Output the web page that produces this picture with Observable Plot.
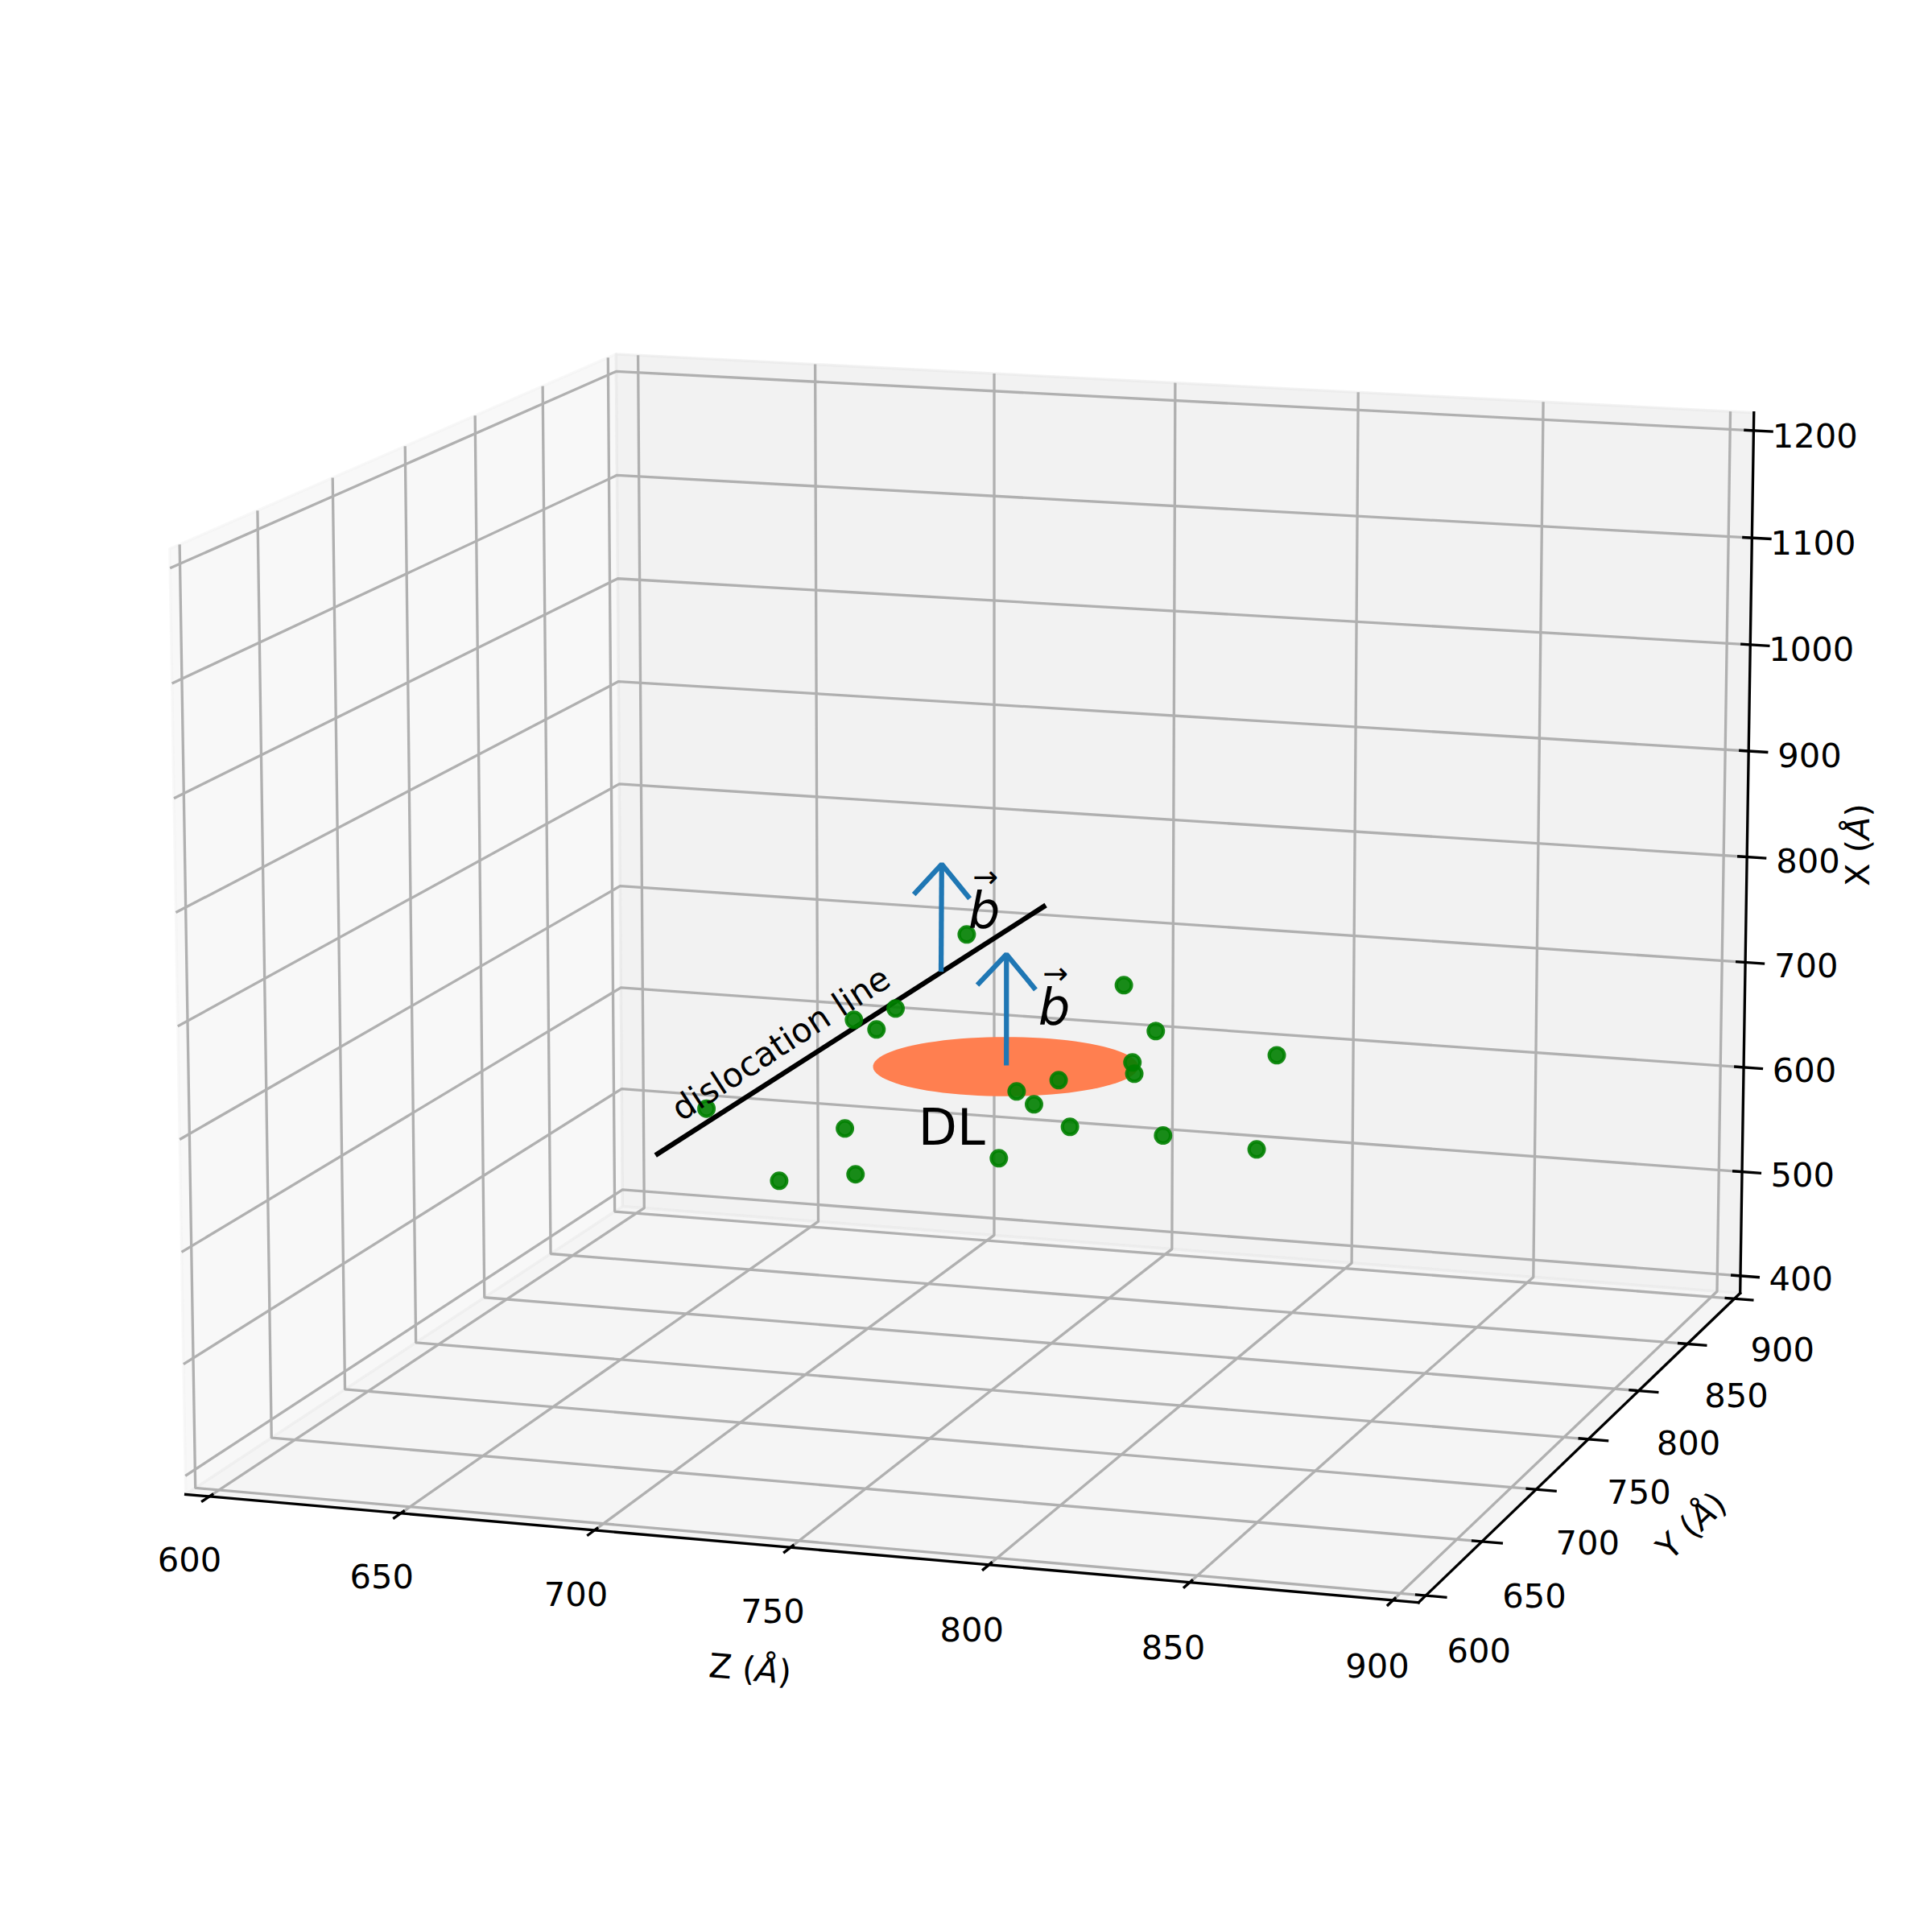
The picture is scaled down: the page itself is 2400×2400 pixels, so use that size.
<!DOCTYPE html>
<html><head><meta charset="utf-8">
<script src="https://cdn.jsdelivr.net/npm/d3@7"></script>
<script src="https://cdn.jsdelivr.net/npm/@observablehq/plot@0.6"></script>
<style>body{margin:0;background:#fff}</style></head>
<body><div id="chart"></div>
<script>
// axis ticks (Å)
const zTicks = [600, 650, 700, 750, 800, 850, 900];
const yTicks = [600, 650, 700, 750, 800, 850, 900];
const xTicks = [400, 500, 600, 700, 800, 900, 1000, 1100, 1200];
// green points
const dotZ = [673.7,710.9,693.2,713.7,713.4,719.4,724.5,743.4,756.6,761.2,767.7,770.7,751.9,784.8,793.2,824.8,787.1,787.6,795.2,819.7];
const dotY = [750,750,750,750,750,750,750,750,750,750,750,750,750,750,750,750,750,750,750,750];
const dotX = [624.3,615.5,562.4,573.8,716.5,709.1,729.6,802.1,661.4,650.7,674.6,632.5,598.7,765.7,725.9,711.7,695.7,685.5,630.9,624.5];
// dislocation line end points
const lineZ = [660.4, 763.7];
const lineY = [750, 750];
const lineX = [578.7, 832.3];
// Burgers vectors: base, tip, head left, head right
const arrowZ = [[753.9,753.9,746.2,761.6],[736.6,736.8,729.4,744.2]];
const arrowX = [[684.6,786.4,756.5,755.9],[766.3,864.7,835.3,835.1]];
const arrowY = 750;
// dislocation loop disc
const loopZ = 753.7, loopY = 750, loopX = 683.8, loopR = 33.4;
// annotations
const noteText = ["dislocation line", "DL"];
const noteZ = [693.9, 739.4];
const noteX = [689.1, 623.1];
const burgersZ = [748.0, 766.5];
const burgersX = [827.7, 743.8];

// 3D view (matplotlib-style perspective)
const view = {elev: 12.214, azim: -72.024, dist: 10, scale: 12979.476, cx: 1231.41, cy: 1165.249};
const zLim = [593.75, 906.25], yLim = [593.75, 906.25], xLim = [383.33, 1216.67];
const [zmin, zmax] = zLim, [ymin, ymax] = yLim, [xmin, xmax] = xLim;
const Rz = zmax - zmin, Ry = ymax - ymin, Rx = xmax - xmin;

const k = 1.8294640721620434 * 25 / 24 / Math.hypot(4, 4, 3);
const box = [4 * k, 4 * k, 3 * k];
const e = view.elev * Math.PI / 180, a = view.azim * Math.PI / 180;
const n = [Math.cos(e) * Math.cos(a), Math.cos(e) * Math.sin(a), Math.sin(e)];
const eye = box.map((v, i) => v / 2 + view.dist * n[i]);
const ul = Math.hypot(n[0], n[1]);
const u = [-n[1] / ul, n[0] / ul, 0];
const v = [n[1] * u[2] - n[2] * u[1], n[2] * u[0] - n[0] * u[2], n[0] * u[1] - n[1] * u[0]];
const dot3 = (s, t) => s[0] * t[0] + s[1] * t[1] + s[2] * t[2];
function project(z, y, x) {
  const w = [(z - zmin) / Rz * box[0], (y - ymin) / Ry * box[1], (x - xmin) / Rx * box[2]];
  const q = w.map((c, i) => c - eye[i]);
  const d = -dot3(n, q);
  return {px: dot3(u, q) / d, py: dot3(v, q) / d};
}
const P = (z, y, x, extra = {}) => ({...project(z, y, x), ...extra});
// list of polylines → rows with an id
function rows(lines) {
  return lines.flatMap((pts, id) => pts.map(p => P(p[0], p[1], p[2], {id})));
}

const paneLeft = [[zmin,ymin,xmin],[zmin,ymax,xmin],[zmin,ymax,xmax],[zmin,ymin,xmax],[zmin,ymin,xmin]];
const paneBack = [[zmin,ymax,xmin],[zmax,ymax,xmin],[zmax,ymax,xmax],[zmin,ymax,xmax],[zmin,ymax,xmin]];
const paneFloor = [[zmin,ymin,xmin],[zmax,ymin,xmin],[zmax,ymax,xmin],[zmin,ymax,xmin],[zmin,ymin,xmin]];

const grid = [
  ...zTicks.map(t => [[t,ymin,xmin],[t,ymax,xmin],[t,ymax,xmax]]),
  ...yTicks.map(t => [[zmin,t,xmax],[zmin,t,xmin],[zmax,t,xmin]]),
  ...xTicks.map(t => [[zmin,ymin,t],[zmin,ymax,t],[zmax,ymax,t]])
];
const axes = [
  [[zmin,ymin,xmin],[zmax,ymin,xmin]],
  [[zmax,ymin,xmin],[zmax,ymax,xmin]],
  [[zmax,ymax,xmin],[zmax,ymax,xmax]]
];
const dz = Rz / 12, dy = Ry / 12;
const ticks = [
  ...zTicks.map(t => [[t,ymin + 0.1 * dy,xmin],[t,ymin - 0.2 * dy,xmin]]),
  ...yTicks.map(t => [[zmax - 0.1 * dz,t,xmin],[zmax + 0.2 * dz,t,xmin]]),
  ...xTicks.map(t => [[zmax - 0.1 * dz,ymax,t],[zmax + 0.2 * dz,ymax,t]])
];
const f = 0.042;
const tickLabels = [
  ...zTicks.map(t => P(t, ymin - f * Ry, xmin - f * Rx, {t})),
  ...yTicks.map(t => P(zmax + f * Rz, t, xmin - f * Rx, {t})),
  ...xTicks.map(t => P(zmax + f * Rz, ymax + f * Ry, t, {t}))
];
const axisLabels = [
  P(750, ymin - 0.095 * Ry, xmin - 0.095 * Rx, {t: "Z (Å)", rot: 5}),
  P(zmax + 0.086 * Rz, 750, xmin - 0.086 * Rx, {t: "Y (Å)", rot: -43}),
  P(zmax + 0.077 * Rz, ymax + 0.077 * Ry, 800, {t: "X (Å)", rot: -90})
];
const angles = d3.range(0, 361, 4).map(d => d * Math.PI / 180);
const loop = angles.map(t => P(loopZ + loopR * Math.cos(t), loopY + loopR * Math.sin(t), loopX));
const dots = dotZ.map((z, i) => P(z, dotY[i], dotX[i]));
const arrows = arrowZ.flatMap((zs, i) => {
  const X = arrowX[i];
  return [
    [[zs[0],arrowY,X[0]],[zs[1],arrowY,X[1]]],
    [[zs[2],arrowY,X[2]],[zs[1],arrowY,X[1]],[zs[3],arrowY,X[3]]]
  ];
});
const notes = noteText.map((t, i) => P(noteZ[i], arrowY, noteX[i], {t, rot: i === 0 ? -33 : 0, size: i === 0 ? 41.67 : 62.5}));
const burgers = burgersZ.map((z, i) => P(z, arrowY, burgersX[i]));

const W = 2400, H = 2400;
const lineOpts = {x: "px", y: "py", z: "id", strokeLinecap: "butt", strokeLinejoin: "miter"};
const pane = (pts, c) => Plot.line(pts.map(p => P(...p)), {x: "px", y: "py", fill: c, stroke: c, fillOpacity: 0.5, strokeOpacity: 0.5, strokeWidth: 3.33});

const chart = Plot.plot({
  width: W, height: H, margin: 0,
  style: {fontFamily: "DejaVu Sans", background: "#fff", overflow: "visible"},
  x: {axis: null, domain: [-view.cx / view.scale, (W - view.cx) / view.scale], range: [0, W]},
  y: {axis: null, domain: [(view.cy - H) / view.scale, view.cy / view.scale], range: [H, 0]},
  marks: [
    pane(paneLeft, "#f2f2f2"),
    pane(paneBack, "#e6e6e6"),
    pane(paneFloor, "#ececec"),
    Plot.line(rows(grid), {...lineOpts, stroke: "#b0b0b0", strokeWidth: 3.33}),
    Plot.line(rows(axes), {...lineOpts, stroke: "#000", strokeWidth: 3.33, strokeLinecap: "square"}),
    Plot.line(rows(ticks), {...lineOpts, stroke: "#000", strokeWidth: 3.33}),
    Plot.text(tickLabels, {x: "px", y: "py", text: d => String(d.t), fontSize: 41.67, fill: "#000", dy: 14}),
    Plot.text(axisLabels, {x: "px", y: "py", text: "t", rotate: "rot", fontSize: 41.67, fill: "#000"}),
    Plot.line(loop, {x: "px", y: "py", fill: "#ff7f50", stroke: "none"}),
    Plot.line(rows([lineZ.map((z, i) => [z, lineY[i], lineX[i]])]), {...lineOpts, stroke: "#000", strokeWidth: 6.25, strokeLinecap: "square"}),
    Plot.dot(dots, {x: "px", y: "py", r: 9.4, fill: "green", stroke: "green", strokeWidth: 4.17, fillOpacity: 0.9, strokeOpacity: 0.9}),
    Plot.line(rows(arrows), {...lineOpts, stroke: "#1f77b4", strokeWidth: 6.25}),
    Plot.text(notes, {x: "px", y: "py", text: "t", rotate: "rot", fontSize: "size", fill: "#000"}),
    Plot.text(burgers, {x: "px", y: "py", text: () => "b", fontSize: 62.5, fontStyle: "italic", fill: "#000", dy: 4.7}),
    Plot.text(burgers, {x: "px", y: "py", text: () => "→", fontSize: 38, fill: "#000", dx: 1.6, dy: -37.5})
  ]
});
chart.querySelectorAll("text").forEach(t => {
  if (t.textContent.includes("Å")) {
    const [a, b] = t.textContent.split("Å");
    t.textContent = a;
    const s = document.createElementNS("http://www.w3.org/2000/svg", "tspan");
    s.setAttribute("font-style", "italic");
    s.textContent = "Å";
    t.appendChild(s);
    t.appendChild(document.createTextNode(b));
  }
});
document.getElementById("chart").appendChild(chart);
</script></body></html>
